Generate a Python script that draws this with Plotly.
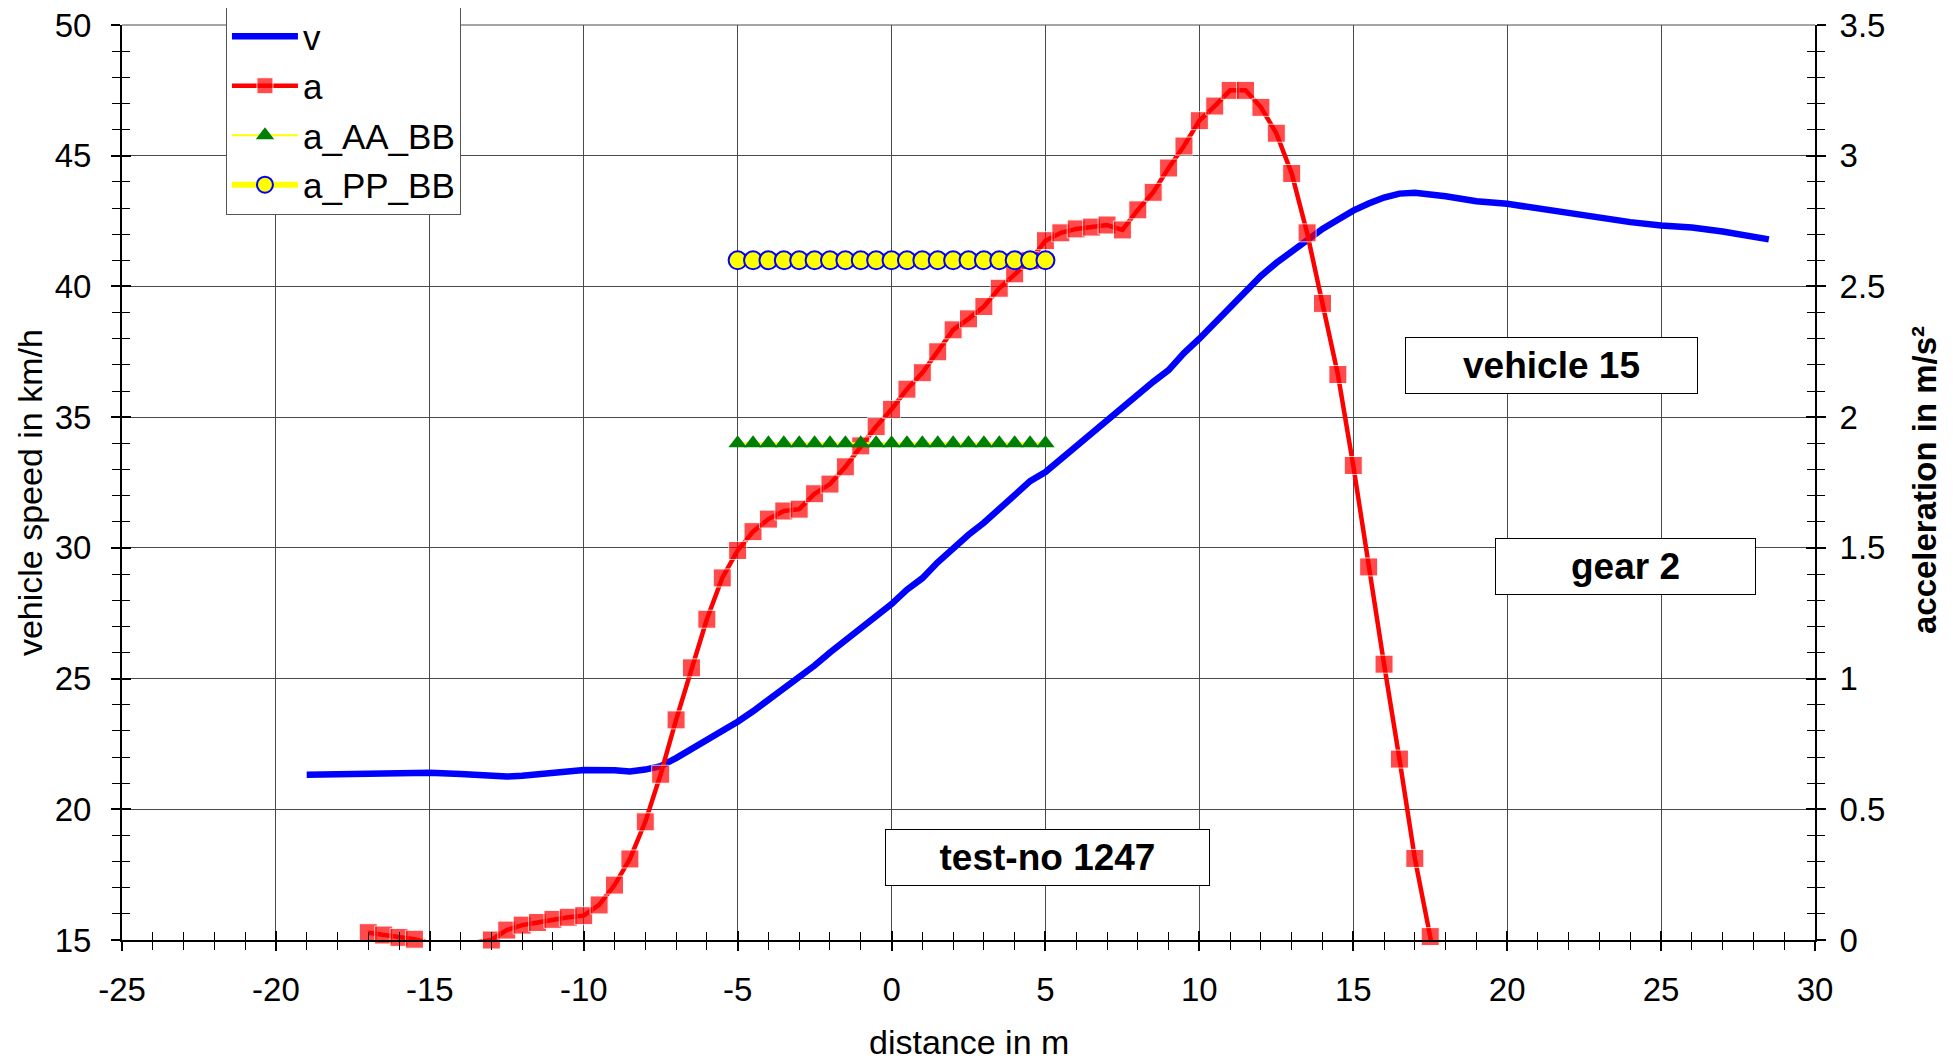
import plotly.graph_objects as go

# ---- data ----
v_x = [-19, -18, -17, -16, -15, -14, -13, -12.5, -12, -11, -10, -9, -8.5, -8, -7.5, -7, -6.5, -6,
       -5.5, -5, -4.5, -4, -3.5, -3, -2.5, -2, -1.5, -1, -0.5, 0, 0.5, 1, 1.5, 2, 2.5, 3, 3.5, 4,
       4.5, 5, 5.5, 6, 6.5, 7, 7.5, 8, 8.5, 9, 9.5, 10, 10.5, 11, 11.5, 12, 12.5, 13, 13.5, 14,
       14.5, 15, 15.5, 16, 16.5, 17, 18, 19, 20, 21, 22, 23, 24, 25, 26, 27, 28, 28.5]
v_val = [21.32, 21.34, 21.35, 21.37, 21.40, 21.35, 21.28, 21.25, 21.28, 21.38, 21.50, 21.49, 21.45,
         21.52, 21.65, 21.96, 22.30, 22.64, 23.00, 23.35, 23.75, 24.18, 24.65, 25.10, 25.50, 26.00,
         26.45, 26.95, 27.35, 27.85, 28.40, 28.84, 29.45, 30.00, 30.50, 30.96, 31.50, 31.98, 32.55,
         32.90, 33.40, 33.85, 34.40, 34.90, 35.40, 35.90, 36.35, 36.80, 37.45, 38.00, 38.60, 39.20,
         39.85, 40.40, 40.90, 41.34, 41.78, 42.20, 42.55, 42.90, 43.17, 43.40, 43.55, 43.58, 43.45,
         43.26, 43.16, 42.98, 42.80, 42.62, 42.46, 42.33, 42.25, 42.10, 41.92, 41.80]

a_x = [-17, -16.5, -16, -15.5, -15, -14.5, -14, -13.5, -13, -12.5, -12, -11.5, -11, -10.5, -10,
       -9.5, -9, -8.5, -8, -7.5, -7, -6.5, -6, -5.5, -5, -4.5, -4, -3.5, -3, -2.5, -2, -1.5, -1,
       -0.5, 0, 0.5, 1, 1.5, 2, 2.5, 3, 3.5, 4, 4.5, 5, 5.5, 6, 6.5, 7, 7.5, 8, 8.5, 9, 9.5, 10,
       10.5, 11, 11.5, 12, 12.5, 13, 13.5, 14, 14.5, 15, 15.5, 16, 16.5, 17, 17.5, 18]
a_val = [0.028, 0.019, 0.010, 0.003, -0.012, -0.025, -0.019, -0.010, 0.000, 0.038, 0.057, 0.067,
         0.079, 0.087, 0.093, 0.134, 0.210, 0.310, 0.452, 0.634, 0.842, 1.041, 1.227, 1.385, 1.490,
         1.562, 1.610, 1.641, 1.648, 1.707, 1.744, 1.810, 1.890, 1.964, 2.030, 2.107, 2.170, 2.250,
         2.334, 2.376, 2.423, 2.493, 2.548, 2.599, 2.675, 2.705, 2.720, 2.727, 2.735, 2.716, 2.793,
         2.860, 2.953, 3.037, 3.134, 3.190, 3.250, 3.250, 3.185, 3.086, 2.932, 2.705, 2.435, 2.163,
         1.815, 1.427, 1.055, 0.692, 0.312, 0.013, -0.330]

ref_x = [-5, -4.5, -4, -3.5, -3, -2.5, -2, -1.5, -1, -0.5, 0, 0.5, 1, 1.5, 2, 2.5, 3, 3.5, 4, 4.5, 5]
a_AA_BB = [1.9] * len(ref_x)
a_PP_BB = [2.6] * len(ref_x)

x_ticks = [-25, -20, -15, -10, -5, 0, 5, 10, 15, 20, 25, 30]
x_ticklabels = ["-25", "-20", "-15", "-10", "-5", "0", "5", "10", "15", "20", "25", "30"]
x_range = [-25, 30]
v_range = [15, 50]
a_range = [0, 3.5]

FONT = "Liberation Sans, Arial, sans-serif"
GRID = "#4a4a4a"

fig = go.Figure()

fig.add_trace(go.Scatter(x=v_x, y=v_val, name="v", mode="lines",
                         line=dict(color="#0000FF", width=6.5), legendgroup="g1"))
fig.add_trace(go.Scatter(x=a_x, y=a_val, name="a", mode="lines+markers", yaxis="y2",
                         line=dict(color="#FF0000", width=4.5),
                         marker=dict(symbol="square", color="#FF0000",
                                     size=[18 if val >= 0 else 0 for val in a_val]),
                         cliponaxis=False, legendgroup="g2"))
fig.add_trace(go.Scatter(x=ref_x, y=a_AA_BB, name="a_AA_BB", mode="lines+markers", yaxis="y2",
                         line=dict(color="#FFFF00", width=2),
                         marker=dict(symbol="triangle-up", color="#008000", size=16),
                         cliponaxis=False, legendgroup="g3"))
fig.add_trace(go.Scatter(x=ref_x, y=a_PP_BB, name="a_PP_BB", mode="lines+markers", yaxis="y2",
                         line=dict(color="#FFFF00", width=6),
                         marker=dict(symbol="circle", color="#FFFF00", size=18,
                                     line=dict(color="#0000FF", width=2)),
                         cliponaxis=False, legendgroup="g4"))
# helper traces so the tick-overlay axes are drawn
fig.add_trace(go.Scatter(x=[], y=[], xaxis="x2", yaxis="y3", showlegend=False, hoverinfo="skip"))
fig.add_trace(go.Scatter(x=[], y=[], xaxis="x", yaxis="y4", showlegend=False, hoverinfo="skip"))

tickfont = dict(family=FONT, size=33, color="black")
tk = dict(ticklen=9, tickwidth=1.5, tickcolor="black")
mtk = dict(ticklen=8, tickwidth=1.2, tickcolor="black", showgrid=False)

fig.update_layout(
    width=1945, height=1055,
    margin=dict(l=114, r=138, t=17, b=123, autoexpand=False),
    paper_bgcolor="white", plot_bgcolor="white",
    font=dict(family=FONT, color="black"),
    xaxis=dict(range=x_range, tickvals=x_ticks, ticktext=x_ticklabels,
               showgrid=True, gridcolor=GRID, gridwidth=1,
               zeroline=False, showline=True, linecolor="black", linewidth=2,
               ticks="outside", **tk,
               minor=dict(dtick=1, tick0=-25, ticks="outside", **mtk),
               tickfont=tickfont, ticklabelstandoff=10, ticklabeloverflow="allow"),
    xaxis2=dict(range=x_range, overlaying="x", anchor="y", side="bottom", tickvals=x_ticks,
                showgrid=False, zeroline=False, showline=False, showticklabels=False,
                ticks="inside", **tk,
                minor=dict(dtick=1, tick0=-25, ticks="inside", **mtk)),
    yaxis=dict(range=v_range, dtick=5, tick0=15, showgrid=True, gridcolor=GRID, gridwidth=1,
               zeroline=False, showline=True, linecolor="black", linewidth=2,
               ticks="outside", **tk,
               minor=dict(dtick=1, ticks="outside", **mtk),
               tickfont=tickfont, ticklabelstandoff=13, ticklabeloverflow="allow"),
    yaxis2=dict(range=a_range, overlaying="y", side="right", anchor="x", dtick=0.5, tick0=0,
                showgrid=False, zeroline=False, showline=True, linecolor="black", linewidth=2,
                ticks="outside", **tk,
                minor=dict(dtick=0.1, ticks="outside", **mtk),
                tickfont=tickfont, ticklabelstandoff=7, ticklabeloverflow="allow"),
    yaxis3=dict(range=v_range, overlaying="y", side="left", anchor="x", dtick=5, tick0=15,
                showgrid=False, zeroline=False, showline=False, showticklabels=False,
                ticks="inside", **tk,
                minor=dict(dtick=1, ticks="inside", **mtk)),
    yaxis4=dict(range=a_range, overlaying="y", side="right", anchor="x", dtick=0.5, tick0=0,
                showgrid=False, zeroline=False, showline=False, showticklabels=False,
                ticks="inside", **tk,
                minor=dict(dtick=0.1, ticks="inside", **mtk)),
    legend=dict(x=0.0614, y=1.0208, xanchor="left", yanchor="top",
                bgcolor="white", bordercolor="#555555", borderwidth=1,
                font=dict(family=FONT, size=35, color="black"),
                itemwidth=66, tracegroupgap=1),
    showlegend=True,
)

# top gridline (v = 50) at the upper edge of the plot area
fig.add_shape(type="line", xref="paper", yref="paper", x0=0, x1=1, y0=1, y1=1,
              line=dict(color=GRID, width=1), layer="below")

box = dict(showarrow=False, xref="paper", yref="paper", xanchor="center", yanchor="middle",
           bgcolor="white", bordercolor="black", borderwidth=1, borderpad=0, align="center",
           font=dict(family=FONT, size=37, color="black"))
fig.add_annotation(text="<b>vehicle 15</b>", x=0.8444, y=0.6279, width=291, height=55, **box)
fig.add_annotation(text="<b>gear 2</b>", x=0.8881, y=0.4082, width=259, height=55, **box)
fig.add_annotation(text="<b>test-no 1247</b>", x=0.5467, y=0.0902, width=323, height=55, **box)

title = dict(showarrow=False, xref="paper", yref="paper", xanchor="center", yanchor="middle")
fig.add_annotation(text="vehicle speed in km/h", x=-0.0543, y=0.4885, textangle=-90,
                   font=dict(family=FONT, size=34, color="black"), **title)
fig.add_annotation(text="<b>acceleration in m/s²</b>", x=1.0644, y=0.5027, textangle=-90,
                   font=dict(family=FONT, size=33, color="black"), **title)
fig.add_annotation(text="distance in m", x=0.5, y=-0.1115,
                   font=dict(family=FONT, size=34, color="black"), **title)

fig.write_html("out.html")
